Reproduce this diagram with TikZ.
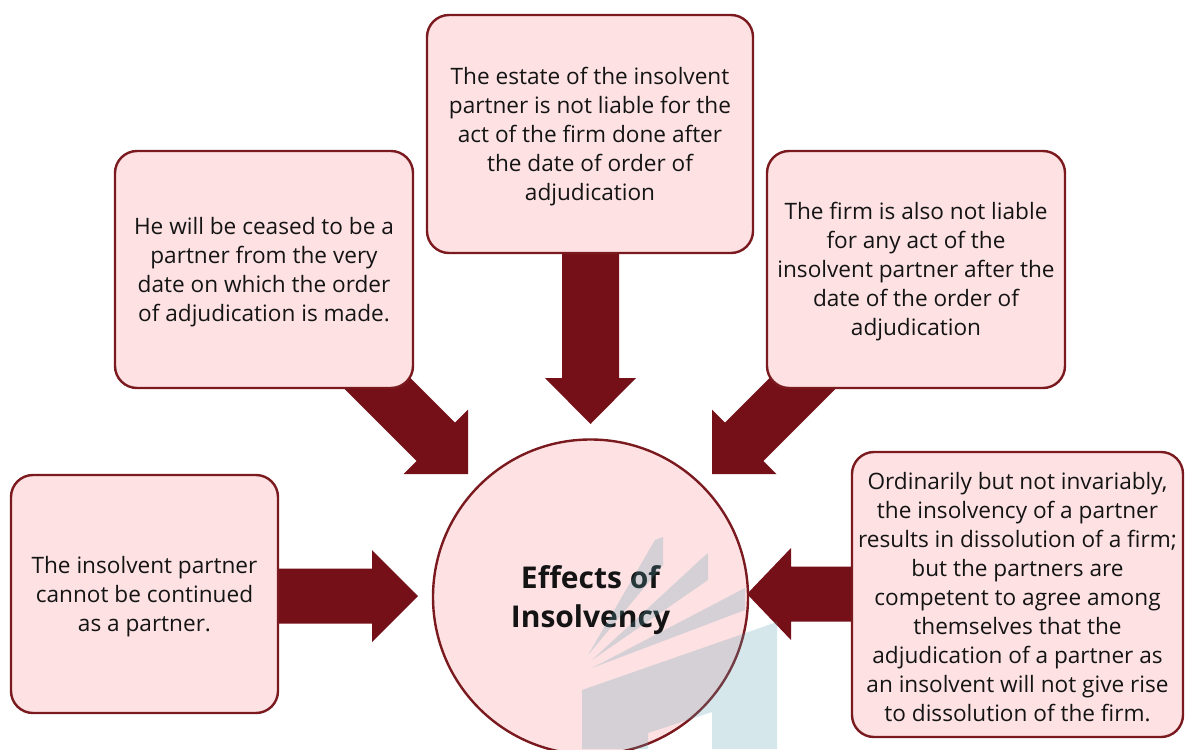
\documentclass[tikz,border=0pt]{standalone}
\usepackage{fontspec}
\setmainfont{Open Sans}
\usetikzlibrary{calc}
\definecolor{arrowred}{HTML}{751018}
\definecolor{boxline}{HTML}{7A1A1F}
\definecolor{boxfill}{HTML}{FDE1E3}
\definecolor{wmark}{HTML}{5FA0B0}
\definecolor{txtcol}{HTML}{141414}
% #1 tip, #2 angle, #3 length, #4 shaft half width, #5 head half width, #6 head length
\newcommand\blockarrow[6]{\fill[arrowred,shift={(#1)},rotate=#2] (0,0) -- (-#6,#5) -- (-#6,#4) -- (-#3,#4) -- (-#3,-#4) -- (-#6,-#4) -- (-#6,-#5) -- cycle;}
\begin{document}
\begin{tikzpicture}[x=1pt,y=-1pt,
  box/.style={draw=boxline, fill=boxfill, line width=2.4pt, rounded corners=22pt, inner sep=0pt},
  txt/.style={align=center, text=txtcol, inner sep=0pt, font=\fontsize{22.6}{29}\selectfont},
  hub/.style={circle, draw=boxline, fill=boxfill, line width=2.4pt, inner sep=0pt, minimum size=315pt},
  hubtxt/.style={align=center, text=txtcol, inner sep=0pt, font=\fontsize{30}{39.5}\selectfont\bfseries}]
\useasboundingbox (0,0) rectangle (1185,749);
\clip (0,0) rectangle (1185,749);
\fill[white] (0,0) rectangle (1185,749);

% centre hub coordinates
\coordinate (hc) at (590.5,597);
\coordinate (tipT) at ($(hc)+(0,-173)$);
\coordinate (tipUL) at ($(hc)+(-122.5,-123)$);
\coordinate (tipUR) at ($(hc)+(121.5,-123)$);
\coordinate (tipL) at ($(hc)+(-172.5,-1)$);
\coordinate (tipR) at ($(hc)+(156.5,-3)$);

% block arrows
\blockarrow{tipT}{-90}{184}{28.5}{45.5}{46}
\blockarrow{tipUL}{-45}{166}{27.2}{45.6}{45.6}
\blockarrow{tipUR}{-135}{166}{27.2}{45.6}{45.6}
\blockarrow{tipL}{0}{148}{27.5}{46}{46}
\blockarrow{tipR}{180}{113}{27.5}{46}{44}

% boxes
\node[box, minimum width=326pt, minimum height=238pt] (top) at (590,134) {};
\node[box, minimum width=298pt, minimum height=237pt] (ul) at (264,269.5) {};
\node[box, minimum width=298pt, minimum height=237pt] (ur) at (916,269.5) {};
\node[box, minimum width=267pt, minimum height=238pt] (ll) at (144.5,594) {};
\node[box, minimum width=331pt, minimum height=285pt] (lr) at (1017.5,594.5) {};
\node[hub] (c) at (hc) {};

% texts
\node[txt] (topt) at ($(top)+(0,2.5)$)
  {The estate of the insolvent\\partner is not liable for the\\act of the firm done after\\the date of order of\\adjudication};
\node[txt] (ult) at ($(ul)+(0,2.5)$)
  {He will be ceased to be a\\partner from the very\\date on which the order\\of adjudication is made.};
\node[txt] (urt) at ($(ur)+(0,2.5)$)
  {The firm is also not liable\\for any act of the\\insolvent partner after the\\date of the order of\\adjudication};
\node[txt] (llt) at ($(ll)+(0,2.5)$)
  {The insolvent partner\\cannot be continued\\as a partner.};
\node[txt] (lrt) at ($(lr)+(0,2.5)$)
  {Ordinarily but not invariably,\\the insolvency of a partner\\results in dissolution of a firm;\\but the partners are\\competent to agree among\\themselves that the\\adjudication of a partner as\\an insolvent will not give rise\\to dissolution of the firm.};
\node[hubtxt] (ct) at ($(c)+(0,3)$) {Effects of\\Insolvency};

% faint watermark
\begin{scope}[fill=wmark, fill opacity=0.25]
\fill (588,655) -- (655,540) -- (663,537) -- (663,565) -- cycle;
\fill (592,660) -- (700,560) -- (708,553) -- (708,580) -- cycle;
\fill (592,668) -- (745,588) -- (745,610) -- cycle;
\fill (582,690) -- (777,622) -- (777,749) -- (712,749) -- (712,712) -- (648,733) -- (648,749) -- (582,749) -- cycle;
\end{scope}
\end{tikzpicture}
\end{document}
